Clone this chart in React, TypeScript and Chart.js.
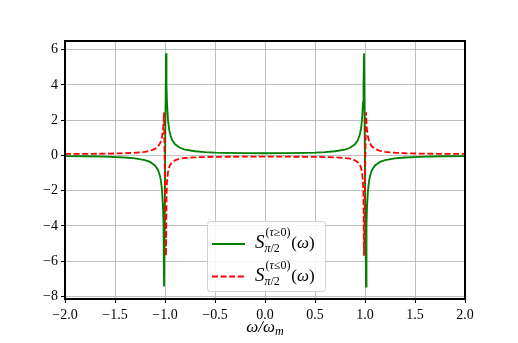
import React, { useEffect, useRef } from "react";
import { Chart, registerables } from "chart.js";

Chart.register(...registerables);

const xs = [
  -2, -1.8, -1.6, -1.4, -1.3, -1.2, -1.15, -1.1, -1.07, -1.05, -1.04, -1.03, -1.02, -1.015, -1.01,
  -0.99, -0.985, -0.98, -0.97, -0.96, -0.95, -0.93, -0.9, -0.85, -0.8, -0.7, -0.6, -0.5, -0.4, -0.2,
  0,
  0.2, 0.4, 0.5, 0.6, 0.7, 0.8, 0.85, 0.9, 0.93, 0.95, 0.96, 0.97, 0.98, 0.985, 0.99,
  1.01, 1.015, 1.02, 1.03, 1.04, 1.05, 1.07, 1.1, 1.15, 1.2, 1.3, 1.4, 1.6, 1.8, 2,
];

const greenVals = [
  -0.04, -0.05, -0.075, -0.12, -0.17, -0.27, -0.37, -0.57, -0.83, -1.17, -1.47, -1.97, -2.97, -3.97, -7.44,
  5.79, 4.0, 3.0, 2.0, 1.52, 1.22, 0.88, 0.63, 0.43, 0.33, 0.235, 0.19, 0.16, 0.143, 0.125,
  0.12,
  0.125, 0.143, 0.16, 0.19, 0.235, 0.33, 0.43, 0.63, 0.88, 1.22, 1.52, 2.0, 3.0, 4.0, 5.79,
  -7.44, -3.97, -2.97, -1.97, -1.47, -1.17, -0.83, -0.57, -0.37, -0.27, -0.17, -0.12, -0.075, -0.05, -0.04,
];

const redVals = [
  0.08, 0.085, 0.095, 0.12, 0.15, 0.2, 0.26, 0.37, 0.5, 0.68, 0.82, 1.05, 1.45, 1.8, 2.45,
  -5.7, -2.4, -1.5, -0.95, -0.7, -0.55, -0.4, -0.28, -0.19, -0.15, -0.11, -0.095, -0.085, -0.08, -0.075,
  -0.075,
  -0.075, -0.08, -0.085, -0.095, -0.11, -0.15, -0.19, -0.28, -0.4, -0.55, -0.7, -0.95, -1.5, -2.4, -5.7,
  2.45, 1.8, 1.45, 1.05, 0.82, 0.68, 0.5, 0.37, 0.26, 0.2, 0.15, 0.12, 0.095, 0.085, 0.08,
];

const xTicks = [-2, -1.5, -1, -0.5, 0, 0.5, 1, 1.5, 2];
const yTicks = [-8, -6, -4, -2, 0, 2, 4, 6];

const FONT = "'Liberation Serif', 'DejaVu Serif', serif";

function fmt(v: number, digits: number) {
  const s = Math.abs(v).toFixed(digits);
  return v < 0 ? "\u2212" + s : s;
}

const framePlugin = {
  id: "frameAndLegend",
  afterDraw(chart: any) {
    const { ctx, chartArea } = chart;
    const { left, right, top, bottom } = chartArea;
    ctx.save();
    // frame
    ctx.strokeStyle = "#000";
    ctx.lineWidth = 2;
    ctx.strokeRect(left, top, right - left, bottom - top);

    // x axis title: ω/ω_m
    const cx = (left + right) / 2;
    ctx.fillStyle = "#000";
    ctx.textBaseline = "alphabetic";
    ctx.font = `italic 17px ${FONT}`;
    const main = "\u03c9/\u03c9";
    const mw = ctx.measureText(main).width;
    ctx.font = `italic 12px ${FONT}`;
    const sw = ctx.measureText("m").width;
    const startX = cx - (mw + sw) / 2;
    ctx.font = `italic 17px ${FONT}`;
    ctx.fillText(main, startX, 332);
    ctx.font = `italic 12px ${FONT}`;
    ctx.fillText("m", startX + mw, 335);

    // legend box
    const bx = 207.5, by = 221.5, bw = 118, bh = 70, r = 3;
    ctx.beginPath();
    ctx.moveTo(bx + r, by);
    ctx.lineTo(bx + bw - r, by);
    ctx.quadraticCurveTo(bx + bw, by, bx + bw, by + r);
    ctx.lineTo(bx + bw, by + bh - r);
    ctx.quadraticCurveTo(bx + bw, by + bh, bx + bw - r, by + bh);
    ctx.lineTo(bx + r, by + bh);
    ctx.quadraticCurveTo(bx, by + bh, bx, by + bh - r);
    ctx.lineTo(bx, by + r);
    ctx.quadraticCurveTo(bx, by, bx + r, by);
    ctx.closePath();
    ctx.fillStyle = "rgba(255,255,255,0.85)";
    ctx.fill();
    ctx.strokeStyle = "#d0d0d0";
    ctx.lineWidth = 1;
    ctx.stroke();

    const rows = [
      { color: "#008000", dash: [] as number[], y: 244, sup: "\u2265" },
      { color: "#ff0000", dash: [6, 2.6], y: 276.5, sup: "\u2264" },
    ];
    for (const row of rows) {
      ctx.strokeStyle = row.color;
      ctx.lineWidth = 1.8;
      ctx.setLineDash(row.dash);
      ctx.beginPath();
      ctx.moveTo(212, row.y);
      ctx.lineTo(245, row.y);
      ctx.stroke();
      ctx.setLineDash([]);

      ctx.fillStyle = "#000";
      const base = row.y + 4;
      let x = 255;
      ctx.font = `italic 19px ${FONT}`;
      ctx.fillText("S", x, base);
      x += ctx.measureText("S").width + 1;
      // superscript (τ≥0)
      const supY = base - 12;
      let sx = x;
      ctx.font = `12px ${FONT}`;
      ctx.fillText("(", sx, supY);
      sx += ctx.measureText("(").width;
      ctx.font = `italic 12px ${FONT}`;
      ctx.fillText("\u03c4", sx, supY);
      sx += ctx.measureText("\u03c4").width;
      ctx.font = `12px ${FONT}`;
      const rest = row.sup + "0)";
      ctx.fillText(rest, sx, supY);
      sx += ctx.measureText(rest).width;
      // subscript π/2
      ctx.font = `italic 12px ${FONT}`;
      ctx.fillText("\u03c0", x - 1, base + 4);
      const bxx = x - 1 + ctx.measureText("\u03c0").width;
      ctx.font = `12px ${FONT}`;
      ctx.fillText("/2", bxx, base + 4);
      // (ω)
      let px = Math.max(sx, bxx + ctx.measureText("/2").width) + 1;
      ctx.font = `17px ${FONT}`;
      ctx.fillText("(", px, base);
      px += ctx.measureText("(").width;
      ctx.font = `italic 17px ${FONT}`;
      ctx.fillText("\u03c9", px, base);
      px += ctx.measureText("\u03c9").width;
      ctx.font = `17px ${FONT}`;
      ctx.fillText(")", px, base);
    }
    ctx.restore();
  },
};

export default function App() {
  const ref = useRef<HTMLCanvasElement | null>(null);

  useEffect(() => {
    if (!ref.current) return;
    const green = xs.map((x, i) => ({ x, y: greenVals[i] }));
    const red = xs.map((x, i) => ({ x, y: redVals[i] }));
    const chart = new Chart(ref.current, {
      type: "line",
      data: {
        datasets: [
          {
            label: "green",
            data: green,
            borderColor: "#008000",
            borderWidth: 1.8,
            pointRadius: 0,
            tension: 0,
            order: 2,
          },
          {
            label: "red",
            data: red,
            borderColor: "#ff0000",
            borderWidth: 1.8,
            borderDash: [6, 2.6],
            pointRadius: 0,
            tension: 0,
            order: 1,
          },
        ],
      },
      options: {
        animation: false,
        responsive: false,
        maintainAspectRatio: false,
        devicePixelRatio: 1,
        layout: { padding: { top: 41, right: 53, left: 0, bottom: 0 } },
        plugins: { legend: { display: false }, tooltip: { enabled: false } },
        scales: {
          x: {
            type: "linear",
            min: -2,
            max: 2,
            afterBuildTicks: (s: any) => {
              s.ticks = xTicks.map((v) => ({ value: v }));
            },
            afterFit: (s: any) => {
              s.height = 44;
            },
            ticks: {
              callback: (v: any) => fmt(Number(v), 1),
              color: "#000",
              font: { family: FONT, size: 14 },
              padding: 4,
              maxRotation: 0,
              autoSkip: false,
            },
            grid: { color: "#b0b0b0", lineWidth: 0.8, tickColor: "#000", tickLength: 4, tickWidth: 1 },
            border: { display: false },
          },
          y: {
            type: "linear",
            min: -8.15,
            max: 6.49,
            afterBuildTicks: (s: any) => {
              s.ticks = yTicks.map((v) => ({ value: v }));
            },
            afterFit: (s: any) => {
              s.width = 65;
            },
            ticks: {
              callback: (v: any) => fmt(Number(v), 0),
              color: "#000",
              font: { family: FONT, size: 14 },
              padding: 3,
              autoSkip: false,
            },
            grid: { color: "#b0b0b0", lineWidth: 0.8, tickColor: "#000", tickLength: 4, tickWidth: 1 },
            border: { display: false },
          },
        },
      },
      plugins: [framePlugin],
    });
    return () => chart.destroy();
  }, []);

  return (
    <div style={{ position: "absolute", left: 0, top: 0, width: 518, height: 343, background: "#fff" }}>
      <canvas ref={ref} width={518} height={343} style={{ width: 518, height: 343 }} />
    </div>
  );
}
